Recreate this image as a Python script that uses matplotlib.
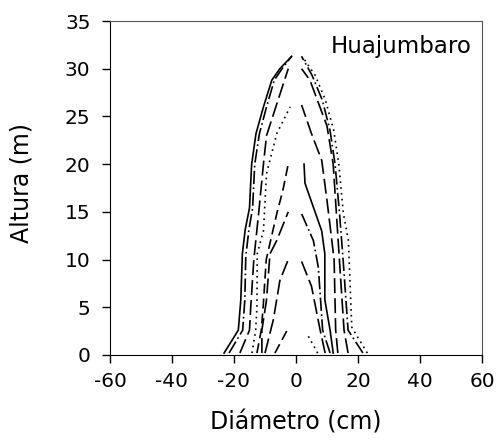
import matplotlib
matplotlib.use("Agg")
import matplotlib.pyplot as plt

plt.rcParams['font.family'] = ['DejaVu Sans']
plt.rcParams['axes.unicode_minus'] = False

# stem profiles, left half (negative diameter) and right half (positive)
left_h = [
    [0.2, 2.6, 5.8, 10.6, 13.1, 15.4, 20, 23.2, 26, 28.8, 30, 31.3],
    [0.2, 2.6, 5.8, 10.3, 13.1, 15.4, 20, 23.2, 26, 28.8, 30, 31.3],
    [0.2, 2.6, 5, 10, 15, 20, 23, 26, 28, 30],
    [0.2, 2.6, 5, 10.6, 13, 19, 23.2, 26],
    [0.2, 2.6, 5, 10, 14.8, 17.3, 20],
    [0.2, 2.6, 5.8, 10.6, 12, 15],
    [0.2, 3.7, 7.8, 10],
    [0.2, 2.8],
]
left_d = [
    [-23.2, -18.6, -17.8, -17.3, -16.4, -15, -14.3, -12.9, -10.5, -7.8, -5.2, -1.4],
    [-21.6, -17.2, -16.5, -16.2, -15.2, -14, -13.3, -11.8, -9.5, -7, -4.5, -1.4],
    [-18.1, -15, -14.6, -13.6, -12, -10.5, -9.5, -6.5, -4.5, -2.5],
    [-14.2, -13, -12.6, -12.5, -10.5, -9.5, -6.2, -1.9],
    [-12.6, -11.2, -10.6, -9.6, -6.2, -4.2, -2.5],
    [-11, -11, -9.5, -8.4, -6.2, -2.5],
    [-10, -7.3, -5.2, -2.5],
    [-6.8, -2.5],
]
left_style = ['-', (0, (8, 2, 1, 2)), (0, (9, 3)), (0, (1, 2.5)),
              (0, (6, 3)), (0, (9, 3)), (0, (9, 3)), (0, (6, 3))]

right_h = [
    [0.2, 2.9, 12, 14.8, 20, 23.5, 26.7, 29.3, 31.3],
    [0.2, 2.6, 10, 15, 20, 23.5, 26.7, 29.3, 31.3],
    [0.2, 2.6, 10, 15, 20, 24, 28.8, 30],
    [0.2, 2.6, 10, 16.2, 20.4, 23.2, 26.2],
    [0.2, 2.6, 5.8, 10.6, 13, 18, 20],
    [0.2, 2.6, 9.2, 12, 14.8],
    [0.2, 2.6, 7.2, 9.8],
    [0.2, 2.3],
]
right_d = [
    [23, 18, 16.9, 15.3, 13.8, 12.2, 9.5, 6.2, 2],
    [21.6, 16.8, 15.2, 14, 12.6, 11, 8.5, 5.2, 1.8],
    [16.8, 15.5, 14, 13, 12, 10, 4.5, 1.8],
    [13.5, 12.8, 12.3, 10, 8.3, 5, 1.8],
    [12, 11, 9.3, 9.3, 8.3, 2.9, 2.6],
    [11, 8.6, 7.2, 5.6, 1.8],
    [9.4, 7.8, 5, 1.8],
    [7, 3.4],
]
right_style = [(0, (1, 2.5)), (0, (8, 2, 1, 2)), (0, (9, 3)), (0, (9, 3)),
               '-', (0, (8, 2, 1, 2)), (0, (9, 3)), (0, (1, 2.5))]

x_ticks = [-60, -40, -20, 0, 20, 40, 60]
y_ticks = [0, 5, 10, 15, 20, 25, 30, 35]

fig = plt.figure(figsize=(4.97, 4.44), dpi=100)
ax = fig.add_axes([0.2213, 0.2005, 0.7485, 0.7522])

for h, d, ls in zip(left_h, left_d, left_style):
    ax.plot(d, h, color='black', lw=1.2, linestyle=ls)
for h, d, ls in zip(right_h, right_d, right_style):
    ax.plot(d, h, color='black', lw=1.2, linestyle=ls)

ax.set_xlim(-60, 60)
ax.set_ylim(0, 35)
ax.set_xticks(x_ticks)
ax.set_yticks(y_ticks)
ax.tick_params(direction='out', length=6, width=1, labelsize=14.5,
               top=False, right=False)
ax.tick_params(axis='y', pad=8)
ax.tick_params(axis='x', pad=6)
for s in ax.spines.values():
    s.set_linewidth(0.8)
ax.spines['top'].set_color('#555555')
ax.spines['right'].set_color('#555555')

ax.set_xlabel('Diámetro (cm)', fontsize=17)
ax.set_ylabel('Altura (m)', fontsize=17)
ax.xaxis.set_label_coords(0.5, -0.165)
ax.yaxis.set_label_coords(-0.205, 0.515)
ax.text(56.8, 32.3, 'Huajumbaro', fontsize=16.5, ha='right', va='center')

fig.savefig('out.png', dpi=100)
